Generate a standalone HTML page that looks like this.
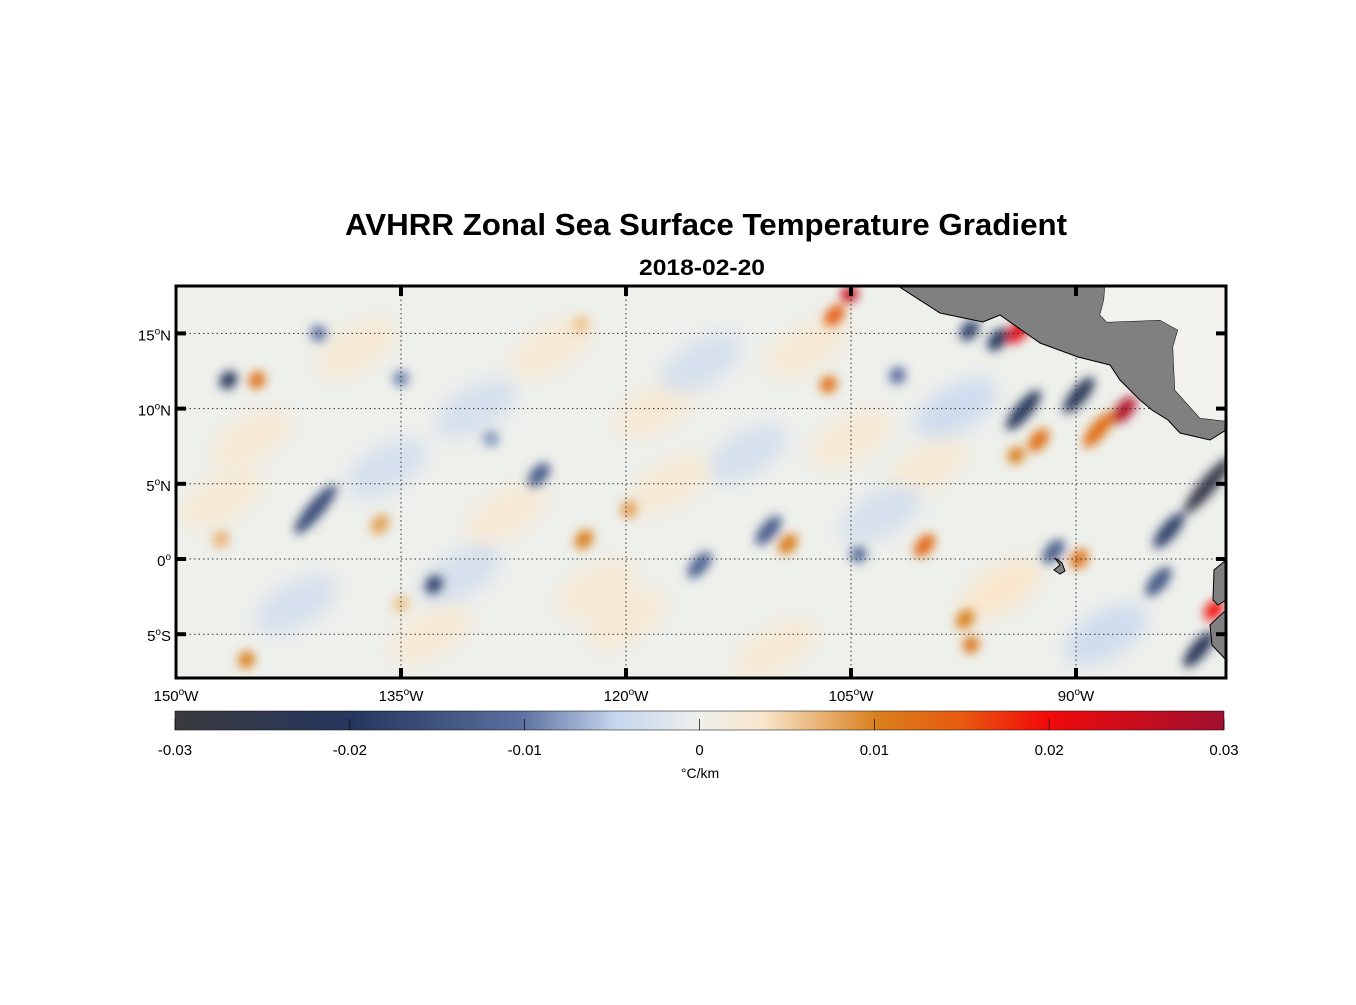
<!DOCTYPE html>
<html><head><meta charset="utf-8"><style>
body{margin:0;background:#fff;}
svg text{font-family:"Liberation Sans",Arial,sans-serif;}
</style></head><body>
<svg id="chart" width="1356" height="1000" xmlns="http://www.w3.org/2000/svg">
<defs>
<filter id="blur" x="-50%" y="-50%" width="200%" height="200%"><feGaussianBlur stdDeviation="5"/></filter>
<filter id="blur2" x="-50%" y="-50%" width="200%" height="200%"><feGaussianBlur stdDeviation="9"/></filter>
<clipPath id="clip"><rect x="176" y="286" width="1050" height="392"/></clipPath>
<linearGradient id="cbar" x1="0" x2="1" y1="0" y2="0">
<stop offset="0" stop-color="#3a3a3e"/><stop offset="0.17" stop-color="#25375f"/>
<stop offset="0.33" stop-color="#5b70a0"/><stop offset="0.42" stop-color="#c5d6ee"/>
<stop offset="0.5" stop-color="#eef0ec"/><stop offset="0.56" stop-color="#f8e6cc"/>
<stop offset="0.67" stop-color="#d97f1c"/><stop offset="0.75" stop-color="#e85a10"/>
<stop offset="0.83" stop-color="#f20a0a"/><stop offset="1" stop-color="#a01030"/>
</linearGradient>
</defs>
<text x="706" y="235" text-anchor="middle" font-size="31" font-weight="bold" textLength="722" lengthAdjust="spacingAndGlyphs">AVHRR Zonal Sea Surface Temperature Gradient</text>
<text x="702" y="275" text-anchor="middle" font-size="22" font-weight="bold" textLength="126" lengthAdjust="spacingAndGlyphs">2018-02-20</text>
<g clip-path="url(#clip)">
<rect x="176" y="286" width="1050" height="392" fill="#eef0ec"/>
<g id="pale" filter="url(#blur2)"></g>
<g id="blobs" filter="url(#blur)"></g>
<g id="grid"></g>
<path d="M898,286 L940,313 L983,322 L1000,315 L1040,343 L1078,357 L1110,365 L1120,380 L1140,400 L1152,410 L1168,420 L1180,433 L1210,440 L1226,430 L1226,421 L1200,418 L1175,390 L1173,347 L1178,330 L1160,320 L1107,322 L1100,315 L1104,300 L1105,286 Z" fill="#808080" stroke="#000" stroke-width="1"/>
<path d="M1105,286 L1104,300 L1100,315 L1107,322 L1160,320 L1178,330 L1173,347 L1175,390 L1200,418 L1226,421 L1226,286 Z" fill="#f3f2ee"/>
<path d="M1226,560 L1214,570 L1213,600 L1218,605 L1226,600 Z" fill="#808080" stroke="#000"/>
<path d="M1226,610 L1210,625 L1212,645 L1226,660 Z" fill="#808080" stroke="#000"/>
<path d="M1055,558 L1060,565 L1054,570 L1060,574 L1065,571 L1062,563 Z" fill="#808080" stroke="#000"/>
</g>
<rect x="176" y="286" width="1050" height="392" fill="none" stroke="#000" stroke-width="3"/>
<g id="axes"></g>
<rect x="175" y="711" width="1049" height="19" fill="url(#cbar)" stroke="#000" stroke-width="0.5"/>
<g id="cbticks"></g>
<text x="700" y="778" text-anchor="middle" font-size="14">°C/km</text>
</svg>
<script>
const lonTicks=[-150,-135,-120,-105,-90];
const latTicks=[15,10,5,0,-5];
const cbTicks=[-0.03,-0.02,-0.01,0,0.01,0.02,0.03];
const blobLon=[-146.5,-144.6,-140.7,-136.4,-147,-132.8,-135,-145.3,-125.8,-122.8,-119.8,-123,-115.1,-110.5,-109.2,-106.5,-106.1,-105.1,-104.5,-100.1,-97.4,-97.1,-93.8,-93.5,-92.5,-89.8,-86.8,-88.5,-94,-81.2,-83.8,-89.8,-80.8,-81.8,-101.9,-97,-95.2,-91.5,-84.5,-140.5,-135,-129];
const blobLat=[11.9,11.9,3.3,2.3,1.3,-1.7,-3,-6.7,5.6,1.3,3.3,15.6,-0.4,1.9,1,11.6,16.2,17.6,0.3,0.9,-4,15.2,15.2,9.9,7.9,10.9,9.9,8.6,6.9,4.9,1.9,0,-3.4,-6,12.2,-5.7,14.6,0.5,-1.5,15,12,8];
const blobVal=[-0.02,0.012,-0.016,0.008,0.007,-0.018,0.006,0.01,-0.013,0.01,0.008,0.006,-0.012,-0.013,0.01,0.012,0.014,0.025,-0.012,0.013,0.01,-0.018,0.022,-0.021,0.012,-0.022,0.028,0.012,0.01,-0.027,-0.018,0.012,0.02,-0.022,-0.01,0.011,-0.02,-0.013,-0.014,-0.01,-0.009,-0.008];
const blobLen=[1.1,1,3.5,1.2,1,1.1,1,1,1.6,1.2,1,1,1.8,2,1.3,1,1.4,1,0.9,1.5,1.2,1.3,1.8,2.8,1.5,2.5,1.8,2.5,1,4,2.5,1.2,1.3,2.5,1,1,1.5,1.6,2,0.9,0.9,0.9];
const paleLon=[-145,-138,-130,-125,-118,-112,-108,-100,-95,-142,-133,-120,-110,-103,-128,-115,-147,-136,-122,-105,-98,-88,-117,-131];
const paleLat=[8,14,10,14,10,7,14,6,-2,-3,-5,-4,-6,3,3,13,4,6,-2,8,10,-5,5,-1];
const paleVal=[0.003,0.003,-0.003,0.003,0.003,-0.003,0.003,0.003,0.004,-0.003,0.003,0.003,0.003,-0.003,0.003,-0.003,0.003,-0.003,0.003,0.003,-0.004,-0.004,0.003,-0.003];
const X=lon=>176+(lon+150)*1050/70;
const Y=lat=>559-lat*15.04;
const CX=v=>175+(v+0.03)/0.06*1049;
const stops=[[-0.03,[58,58,62]],[-0.02,[37,55,95]],[-0.01,[91,112,160]],[-0.005,[197,214,238]],[0,[238,240,236]],[0.004,[248,230,204]],[0.01,[217,127,28]],[0.015,[232,90,16]],[0.02,[242,10,10]],[0.03,[160,16,48]]];
function col(v){v=Math.max(-0.03,Math.min(0.03,v));for(let i=0;i<stops.length-1;i++){const[a,ca]=stops[i],[b,cb]=stops[i+1];if(v<=b){const t=(v-a)/(b-a);return 'rgb('+ca.map((c,k)=>Math.round(c+(cb[k]-c)*t)).join(',')+')';}}}
const NS='http://www.w3.org/2000/svg';
function mk(tag,attrs,parent){const e=document.createElementNS(NS,tag);for(const k in attrs)e.setAttribute(k,attrs[k]);parent.appendChild(e);return e;}
const pale=document.getElementById('pale');
paleLon.forEach((lo,i)=>{const e=mk('ellipse',{cx:X(lo),cy:Y(paleLat[i]),rx:45,ry:22,fill:col(paleVal[i]),transform:'rotate(-30 '+X(lo)+' '+Y(paleLat[i])+')'},pale);

});
const blobs=document.getElementById('blobs');
blobLon.forEach((lo,i)=>{const cx=X(lo),cy=Y(blobLat[i]);const e=mk('ellipse',{cx:cx,cy:cy,rx:9*blobLen[i],ry:8,fill:col(blobVal[i]),transform:'rotate(-50 '+cx+' '+cy+')'},blobs);

});
const grid=document.getElementById('grid'),axes=document.getElementById('axes');
lonTicks.forEach(lo=>{const x=X(lo);
if(lo>-150){const g=mk('line',{x1:x,x2:x,y1:286,y2:678,stroke:'#333','stroke-width':1,'stroke-dasharray':'1.5,3'},grid);


mk('line',{x1:x,x2:x,y1:286,y2:296,stroke:'#000','stroke-width':4},axes);mk('line',{x1:x,x2:x,y1:668,y2:678,stroke:'#000','stroke-width':4},axes);}
const t=mk('text',{x:x,y:701,'text-anchor':'middle','font-size':15},axes);t.innerHTML=(-lo)+'<tspan dy="-6" font-size="10">o</tspan><tspan dy="6">W</tspan>';

});
latTicks.forEach(la=>{const y=Y(la);
const g=mk('line',{x1:176,x2:1226,y1:y,y2:y,stroke:'#333','stroke-width':1,'stroke-dasharray':'1.5,3'},grid);


mk('line',{x1:176,x2:186,y1:y,y2:y,stroke:'#000','stroke-width':4},axes);mk('line',{x1:1216,x2:1226,y1:y,y2:y,stroke:'#000','stroke-width':4},axes);
const t=mk('text',{x:171,y:y+7,'text-anchor':'end','font-size':15},axes);t.innerHTML=Math.abs(la)+'<tspan dy="-6" font-size="10">o</tspan><tspan dy="6">'+(la>0?'N':la<0?'S':'')+'</tspan>';

});
const cb=document.getElementById('cbticks');
cbTicks.forEach(v=>{const x=CX(v);mk('line',{x1:x,x2:x,y1:719,y2:730,stroke:'#000','stroke-width':0.7},cb);
const t=mk('text',{x:x,y:755,'text-anchor':'middle','font-size':15},cb);t.textContent=v===0?'0':v.toString();

});
</script>
</body></html>
